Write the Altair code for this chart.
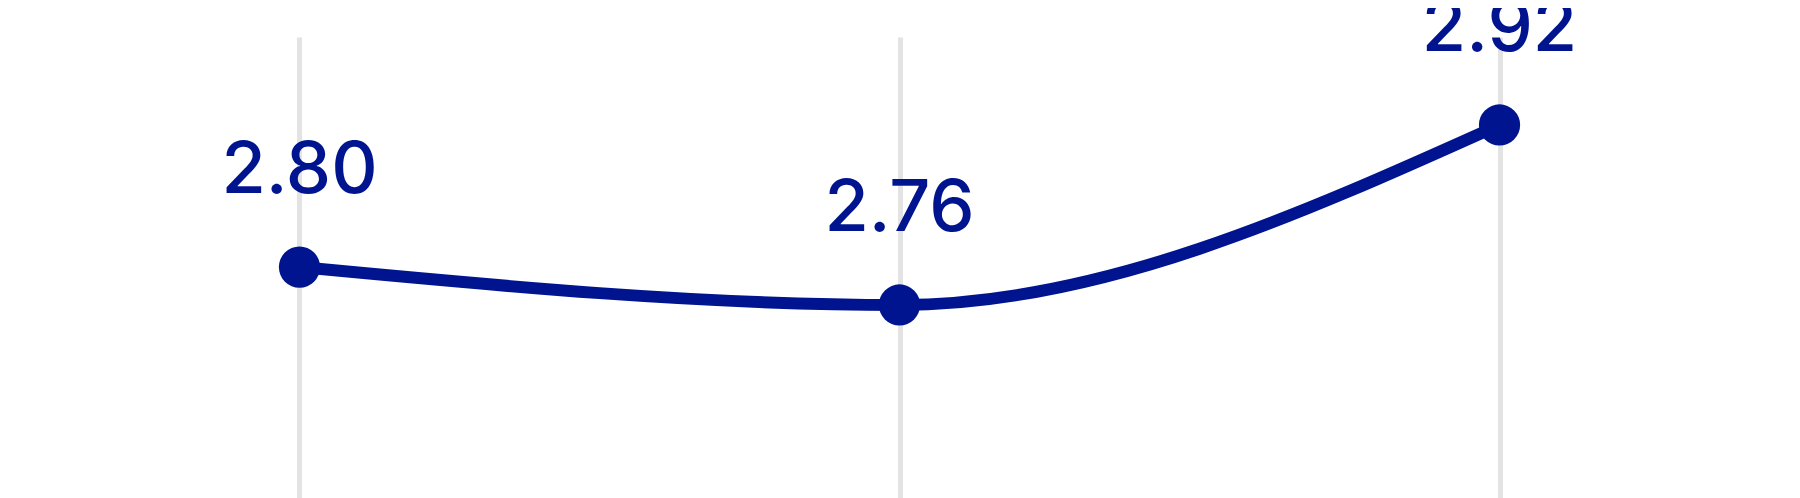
import altair as alt
import pandas as pd

categories = ["A", "B", "C"]
values = [2.796, 2.764, 2.916]

df = pd.DataFrame({"cat": categories, "value": values})

BLUE = "#00148F"

x = alt.X(
    "cat:O",
    sort=categories,
    scale=alt.Scale(type="point", padding=0.4858),
    axis=alt.Axis(labels=False, ticks=False, domain=False, title=None,
                  grid=True, gridColor="#e3e3e3", gridWidth=5),
)
y = alt.Y("value:Q", scale=alt.Scale(domain=[2.5934, 2.9903], nice=False, zero=False), axis=None)

base = alt.Chart(df).encode(x=x, y=y)

line = base.mark_line(interpolate="monotone", color=BLUE, strokeWidth=12)
pts = base.mark_circle(size=1700, color=BLUE, opacity=1)
labels = base.mark_text(
    dy=-74, baseline="alphabetic", align="center", font="Inter",
    fontSize=72, fontWeight=500, color=BLUE
).encode(text=alt.Text("value:Q", format=".2f"))

chart = alt.layer(line, pts, labels).properties(
    width=1783,
    height=470,
    padding={"left": 0, "right": 0, "top": 29, "bottom": 0},
    autosize=alt.AutoSizeParams(type="none"),
).configure_view(stroke=None)

chart.save("out.html", embed_options={"renderer": "svg", "actions": False})
